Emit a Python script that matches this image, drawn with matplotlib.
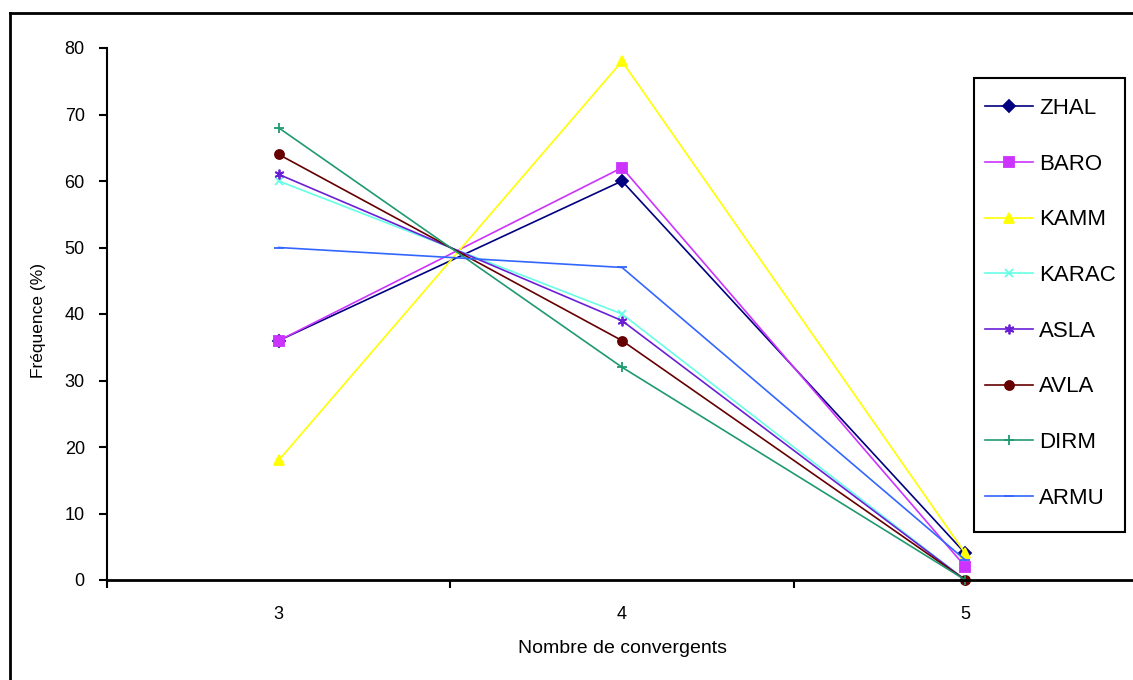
import matplotlib
matplotlib.use("Agg")
import matplotlib.pyplot as plt
from matplotlib.lines import Line2D
from matplotlib.patches import Rectangle

plt.rcParams['font.family'] = ['Liberation Sans', 'DejaVu Sans']

categories = [3, 4, 5]
cat_labels = ["3", "4", "5"]

series_names = ["ZHAL", "BARO", "KAMM", "KARAC", "ASLA", "AVLA", "DIRM", "ARMU"]
zhal = [36, 60, 4]
baro = [36, 62, 2]
kamm = [18, 78, 4]
karac = [60, 40, 0]
asla = [61, 39, 0]
avla = [64, 36, 0]
dirm = [68, 32, 0]
armu = [50, 47, 3]
series_values = [zhal, baro, kamm, karac, asla, avla, dirm, armu]

colors = ["#000080", "#CC33FF", "#FFFF00", "#66FFE6", "#6A1FD6", "#660000", "#1F9970", "#3366FF"]
markers = ["D", "s", "^", "x", (6, 2, 0), "o", "+", "_"]
msizes = [6, 7, 7.5, 6, 7, 6.5, 7, 7]

W, H = 1133, 680
fig = plt.figure(figsize=(W / 100, H / 100), dpi=100)
ax = fig.add_axes([107 / W, 1 - 580 / H, (1137 - 107) / W, (580 - 48) / H])

for name, vals, c, m, ms in zip(series_names, series_values, colors, markers, msizes):
    ax.plot(categories, vals, color=c, marker=m, markersize=ms, linewidth=1.2,
            markeredgewidth=1.3, markeredgecolor=c, markerfacecolor=c, label=name,
            clip_on=False)

ax.set_xlim(2.5, 5.5)
ax.set_ylim(0, 80)
ax.set_yticks(range(0, 81, 10))
ax.set_xticks([2.5, 3.5, 4.5, 5.5])
ax.set_xticklabels([])
ax.set_xticks(categories, minor=True)
ax.set_xticklabels(cat_labels, minor=True)
ax.tick_params(axis='x', which='minor', length=0, pad=19, labelsize=13)
ax.tick_params(axis='x', which='major', length=6, width=1.5, direction='out')
ax.tick_params(axis='y', length=6, width=1.5, direction='out', pad=10, labelsize=13)

for s in ["top", "right"]:
    ax.spines[s].set_visible(False)
ax.spines["left"].set_linewidth(1.5)
ax.spines["bottom"].set_linewidth(2)

ax.set_xlabel("Nombre de convergents", fontsize=14, labelpad=12)
ax.set_ylabel("Fréquence (%)", fontsize=12.5, labelpad=8.5)
ax.yaxis.set_label_coords(-61 / 1030, (580 - 321) / 532)

# legend entries, with the box drawn separately around them
leg = ax.legend(loc="upper left", bbox_to_anchor=(985 / W, 1 - 98 / H),
                bbox_transform=fig.transFigure, borderaxespad=0, borderpad=0,
                frameon=False, fontsize=16, labelspacing=1.56,
                handlelength=2.16, handletextpad=0.27)
fig.add_artist(Rectangle((974 / W, 1 - 532 / H), 151 / W, 454 / H,
                         transform=fig.transFigure, fill=False,
                         edgecolor="black", linewidth=1.5))

# outer chart border
fig.add_artist(Line2D([10 / W, 10 / W], [1 - 13 / H, 0], transform=fig.transFigure,
                      color="black", linewidth=2))
fig.add_artist(Line2D([10 / W, 1], [1 - 13 / H, 1 - 13 / H], transform=fig.transFigure,
                      color="black", linewidth=2))

fig.savefig("out.png", dpi=100)
